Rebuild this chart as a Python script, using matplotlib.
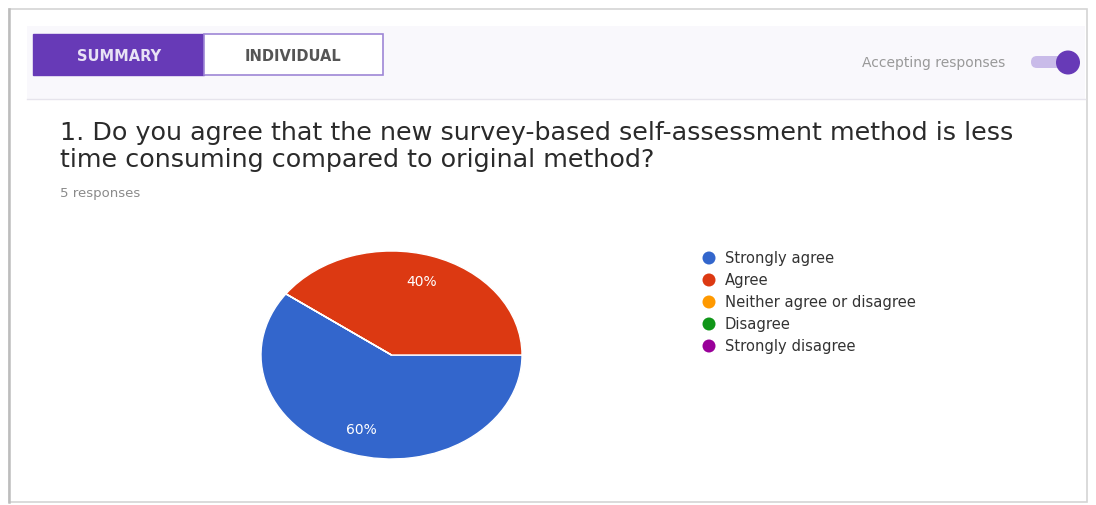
import matplotlib.pyplot as plt
from matplotlib.patches import Rectangle, FancyBboxPatch, Circle

# dados da pergunta
respostas = ["Strongly agree", "Agree", "Neither agree or disagree", "Disagree", "Strongly disagree"]
contagens = [3, 2, 0, 0, 0]
cores = ["#3366cc", "#dc3912", "#ff9900", "#109618", "#990099"]
pergunta = ["1. Do you agree that the new survey-based self-assessment method is less",
            "time consuming compared to original method?"]
n_respostas = 5

W, H = 1096, 506
fig = plt.figure(figsize=(W/100, H/100), dpi=100)

# eixo de fundo em pixels (y para baixo)
bg = fig.add_axes([0, 0, 1, 1])
bg.set_xlim(0, W)
bg.set_ylim(H, 0)
bg.axis("off")

# cartão
bg.add_patch(Rectangle((9, 10), 1078, 493, facecolor="white", edgecolor="#d4d4d4", lw=1.2))
bg.plot([9, 9], [10, 503], color="#bdbdbd", lw=1.8)
bg.add_patch(Rectangle((27, 27), 1058, 73, facecolor="#f9f8fc", edgecolor="none"))
bg.plot([27, 1085], [100, 100], color="#e6e4ec", lw=1)

# abas
bg.add_patch(Rectangle((33, 35), 171, 41, facecolor="#673ab7", edgecolor="#673ab7", lw=1))
bg.add_patch(Rectangle((204, 35), 179, 41, facecolor="white", edgecolor="#9e86d6", lw=1.2))
bg.text(119, 56, "SUMMARY", color="#e8e2f5", fontsize=10.5, fontweight="bold", ha="center", va="center")
bg.text(293, 56, "INDIVIDUAL", color="#555555", fontsize=10.5, fontweight="bold", ha="center", va="center")

# toggle
bg.text(1005, 63, "Accepting responses", color="#999999", fontsize=10, ha="right", va="center")
bg.add_patch(FancyBboxPatch((1031, 57), 40, 12, boxstyle="round,pad=0,rounding_size=6",
                            facecolor="#c9bbe9", edgecolor="none"))
bg.add_patch(Circle((1068, 63.5), 12, facecolor="#673ab7", edgecolor="none"))

# pergunta
bg.text(60, 133, pergunta[0], color="#2a2a2a", fontsize=18.3, va="center", ha="left")
bg.text(60, 160, pergunta[1], color="#2a2a2a", fontsize=18.3, va="center", ha="left")
bg.text(60, 194, f"{n_respostas} responses", color="#8a8a8a", fontsize=9.5, va="center", ha="left")

# legenda
for i, (r, c) in enumerate(zip(respostas, cores)):
    y = 259 + 22*i
    bg.add_patch(Circle((709, y), 6.5, facecolor=c, edgecolor="none"))
    bg.text(725, y, r, color="#333333", fontsize=10.6, va="center", ha="left")

# pizza (elíptica, como no print)
ax = fig.add_axes([261/W, (H-460)/H, 261/W, 208/H])
wedges, textos, pcts = ax.pie(contagens, colors=cores, startangle=144, counterclock=True,
                              autopct=lambda p: f"{p:.0f}%" if p > 0 else "",
                              pctdistance=0.75, radius=1,
                              wedgeprops=dict(edgecolor="white", linewidth=1))
for t in pcts:
    t.set_color("white")
    t.set_fontsize(10)
ax.set_aspect("auto")
ax.set_xlim(-1, 1)
ax.set_ylim(-1, 1)
ax.axis("off")

plt.savefig("out.png", dpi=100)
